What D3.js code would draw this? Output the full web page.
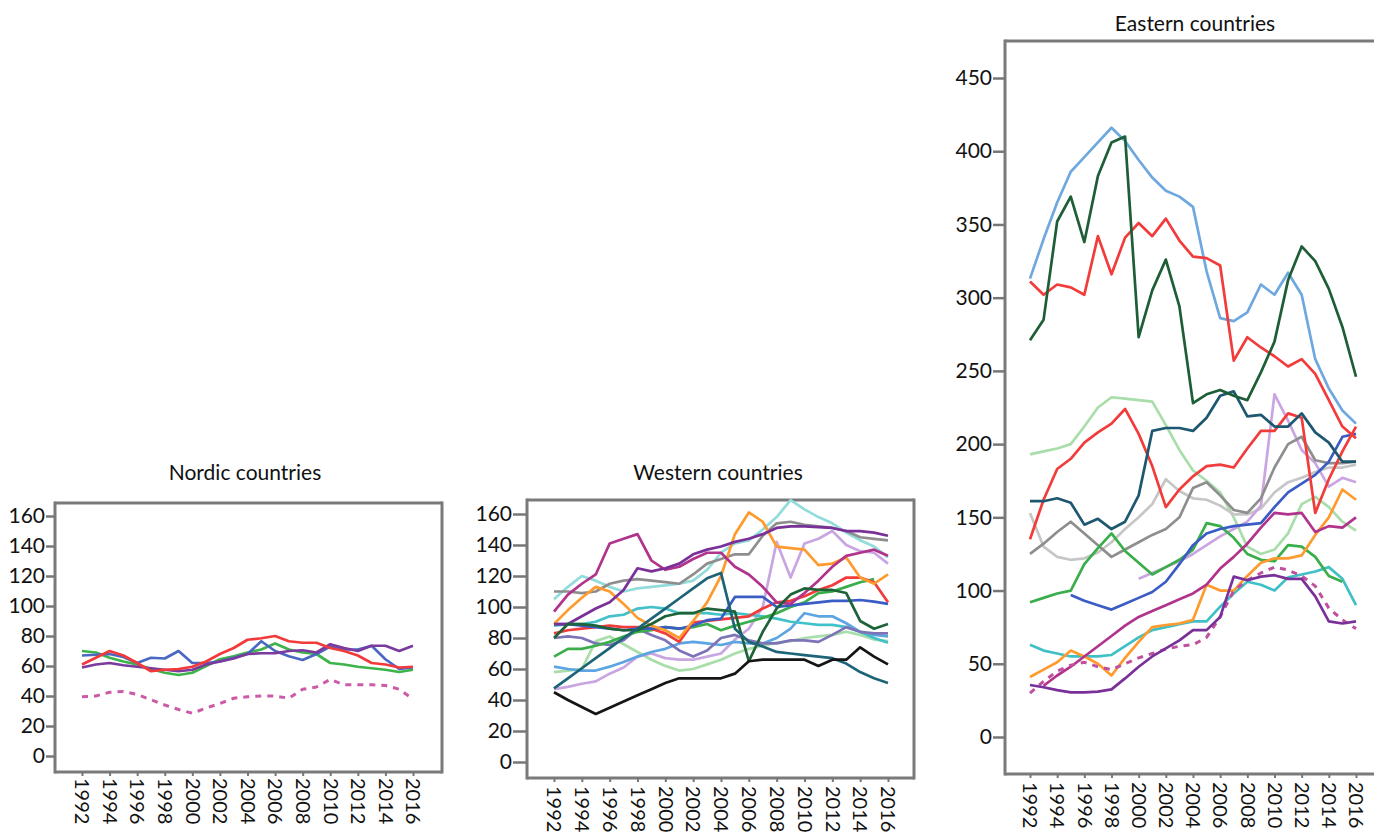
<!DOCTYPE html>
<html>
<head>
<meta charset="utf-8">
<script src="https://cdn.jsdelivr.net/npm/d3@7/dist/d3.min.js"></script>
<style>
  html, body { margin: 0; padding: 0; background: #ffffff; overflow: hidden; }
  svg { display: block; font-family: Lato, "Open Sans", sans-serif; }
</style>
</head>
<body>
<svg id="chart" width="1374" height="832"></svg>
<script>
// ---- shared categories -------------------------------------------------
const years = [1992, 1993, 1994, 1995, 1996, 1997, 1998, 1999, 2000, 2001, 2002, 2003,
               2004, 2005, 2006, 2007, 2008, 2009, 2010, 2011, 2012, 2013, 2014, 2015, 2016];
const yearTicks = [1992, 1994, 1996, 1998, 2000, 2002, 2004, 2006, 2008, 2010, 2012, 2014, 2016];
const smallTicks = [0, 20, 40, 60, 80, 100, 120, 140, 160];
const largeTicks = [0, 50, 100, 150, 200, 250, 300, 350, 400, 450];

// ---- Nordic countries --------------------------------------------------
const nordicBlue   = [67, 67.5, 68, 66, 62, 65.5, 65, 70, 62, 62, 63, 65.5, 68, 76.5, 70, 66.5, 64, 68, 73, 71, 71, 73.5, 64.5, 58, 59];
const nordicGreen  = [70, 69, 65.5, 63, 61, 58, 55.5, 54, 55.5, 60, 64.5, 66.5, 69, 71, 75, 71, 69, 68, 62, 61, 59.5, 58.5, 57.5, 56, 57.5];
const nordicRed    = [61, 65.5, 70, 67, 62, 56.5, 57.5, 58, 59.5, 63, 68, 72, 77.5, 78.5, 80, 76.5, 75.5, 75.5, 72, 70, 67, 62, 61, 59, 59.5];
const nordicPurple = [59, 61, 62, 60.5, 59.5, 58.5, 57.5, 56.5, 57.5, 61, 63, 65, 68, 68.5, 68.5, 70, 70.5, 69, 74.5, 72, 70, 73.5, 73.5, 70, 73.5];
const nordicDashed = [39.5, 40, 42.5, 43, 41, 37.5, 34, 31, 28.5, 32, 35, 38.5, 39.5, 40, 40, 38.5, 44.5, 46, 51, 47.5, 47.5, 47.5, 47, 44.5, 38];

// ---- Western countries -------------------------------------------------
const westLightGreen = [58, 59, 60, 78, 81, 76, 71, 66, 62, 59, 60, 63, 66, 70, 73, 75, 77, 78, 80, 81, 82, 84, 82, 79, 78];
const westLilac      = [47, 48.5, 50.5, 52, 57, 61, 68, 70, 67, 66, 66, 68, 70, 79, 86, 100, 142, 119, 141, 144, 149, 140, 136, 135, 128];
const westLightBlue  = [61.5, 60, 59, 59, 61.5, 64.5, 68, 71, 73, 76.5, 77.5, 76.5, 75.5, 77.5, 76.5, 76.5, 80, 86, 96, 94, 94, 89.5, 84, 82, 81];
const westMedCyan    = [88, 89, 89, 90.5, 94, 95, 99, 100, 99, 96, 96, 96, 95, 96, 95, 94, 92.5, 90.5, 89.5, 88.5, 88.5, 87, 84, 80, 77];
const westLightCyan  = [105, 113, 120, 117, 113, 110, 112, 113, 114, 115, 117, 124, 135, 141, 143, 150, 158, 169, 163, 158, 154, 148, 143, 139, 132];
const westSlate      = [80, 81, 80, 76.5, 75.5, 78.5, 86, 82, 78.5, 72, 68, 72, 80, 82, 78.5, 76.5, 76.5, 78.5, 78.5, 77.5, 82, 87, 84, 83, 83];
const westGray       = [110, 110, 109, 110, 115, 117, 118, 117, 116, 115, 121, 128, 131, 134, 134, 146, 154, 155, 153, 152, 151, 149, 145, 144, 143];
const westGreen      = [68, 73, 73, 75, 77.5, 81, 84, 85, 87, 86, 87, 89, 85, 88, 90.5, 93, 96, 100, 103, 109, 110, 113, 116, 118, null];
const westRed        = [83, 85, 86, 87, 88, 87, 87, 86, 83, 77.5, 90, 91, 92, 93, 94, 99, 103, 104, 107, 111, 114, 119, 119, 116, 103];
const westBlue       = [89, 89, 88, 87, 86, 85, 86, 86, 87, 86, 88, 91.5, 92.5, 106.5, 106.5, 106.5, 100, 101, 102, 103, 104, 104, 104.5, 103.5, 102];
const westOrange     = [89, 98, 106, 113, 110, 102, 93, 88, 85, 80, 91, 103, 120, 147, 161, 155, 139, 138, 137, 127, 128, 132, 119, 115, 121];
const westMagenta    = [97, 108, 115, 121, 141, 144, 147, 130, 124, 126, 131, 135, 135, 126, 121, 113, 103, 102, 109, 117, 126, 133, 135, 137, 133];
const westPurple     = [89, 89, 94, 99, 103, 111, 125, 123, 125, 128, 134, 137, 139, 142, 144, 147, 151, 152, 152, 151.5, 151, 149, 149, 148, 146];
const westDarkGreen  = [80, 89, 89, 88, 86, 85, 85, 89, 94, 96, 96, 99, 98, 97, 65, 84, 99, 108, 112, 111, 111, 109, 91, 86, 89];
const westTeal       = [47.5, 54, 60.5, 67, 73.5, 80, 86, 92.5, 99, 105.5, 112, 118.5, 122, 86, 77.5, 74.5, 71, 70, 69, 68, 67, 63.5, 58, 54, 51];
const westBlack      = [45, 40, 35.5, 31, 35, 39, 43, 47, 51, 54, 54, 54, 54, 57, 65, 66, 66, 66, 66, 62, 66, 66, 74, 68, 63];

// ---- Eastern countries -------------------------------------------------
const eastLightGreen = [193, 195, 197, 200, 212, 225, 232, 231, 230, 229, 213, 196, 182, 175, 167, 150, 130, 125, 128, 139, 159, 164, 157, 147, 141];
const eastLightGray  = [153, 130, 123, 121, 122, 126, 133, 142, 150, 159, 176, 168, 163, 162, 158, 152, 152, 156, 167, 174, 177, 181, 184, 184, 186];
const eastLilac      = [null, null, null, null, null, null, null, null, 108, 112, 116, 120, 125, 131, 137, 142, 147, 158, 234, 216, 196, 187, 171, 177, 174];
const eastLightBlue  = [313, 340, 365, 386, 396, 406, 416, 407, 394, 382, 373, 369, 362, 318, 286, 284, 290, 309, 302, 317, 302, 258, 238, 223, 214];
const eastGray       = [125, 132, 140, 147, 139, 131, 123, 128, 133, 138, 142, 150, 170, 174, 165, 155, 153, 163, 184, 200, 205, 189, 187, 187, 188];
const eastCyan       = [63, 59, 57, 55, 55, 55, 56, 62, 68, 73, 75, 77, 79, 79, 89, 98, 106, 104, 100, 109, 111, 113, 116, 108, 90];
const eastGreen      = [92, 95, 98, 100, 118, 129, 139, 127, 119, 111, 116, 121, 128, 146, 144, 136, 125, 121, 120, 131, 130, 123, 110, 106, null];
const eastBlue       = [null, null, null, 97, 93, 90, 87, 91, 95, 99, 106, 118, 131, 139, 142, 144, 145, 146, 157, 167, 173, 179, 188, 205, 207];
const eastOrange     = [41, 46, 51, 59, 55, 50, 42, 54, 65, 75, 76.5, 77.5, 80, 104, 100, 100, 110, 119, 122, 122, 124, 138, 150, 169, 162];
const eastMagenta    = [null, 35, 42, 48, 55, 62, 69, 76, 82, 86, 90, 94, 98, 104, 115, 123, 132, 143, 153, 152, 153, 140, 144, 143, 150];
const eastDashed     = [30, 38, 45, 49, 51, 48, 46, 50, 54, 57, 60, 62, 63, 68, 82, 100, 107, 112, 116, 114, 110, 103, 88, 80, 74];
const eastPurple     = [35.5, 34, 32, 30.5, 30.5, 31, 32.5, 40, 48, 55, 60.5, 66, 73, 73, 82, 109.5, 107, 109.5, 110.5, 108, 108, 96, 79, 77.5, 79];
const eastRedLower   = [135, 162, 183, 190, 201, 208, 214, 224, 207, 185, 157, 169, 178, 185, 186, 184, 197, 209, 209, 221, 218, 153, 176, 195, 212];
const eastDarkTeal   = [161, 161, 163, 160, 145, 149, 142, 147, 165, 209, 211, 211, 209, 218, 233, 236, 219, 220, 212, 212, 221, 208, 201, 188, 188];
const eastRedUpper   = [311, 302, 309, 307, 302, 342, 316, 341, 351, 342, 354, 339, 328, 327, 322, 257, 273, 266, 260, 253, 258, 248, 230, 212, 204];
const eastDarkGreen  = [271, 285, 352, 369, 338, 383, 406, 410, 273, 305, 326, 294, 228, 234, 237, 233, 230, 249, 270, 312, 335, 325, 306, 280, 246];

// ---- line styles (drawing order = list order) ---------------------------
const nordicLines = [
  { values: nordicDashed, color: "#cc5aa6", dashed: true },
  { values: nordicGreen,  color: "#3cb44a" },
  { values: nordicBlue,   color: "#4a68c2" },
  { values: nordicPurple, color: "#7a3a9e" },
  { values: nordicRed,    color: "#f23a3a" }
];
const westernLines = [
  { values: westLightGreen, color: "#a9deaa" },
  { values: westLilac,      color: "#c9a6e2" },
  { values: westLightBlue,  color: "#5da4e2" },
  { values: westMedCyan,    color: "#42c1c8" },
  { values: westLightCyan,  color: "#92dcdc" },
  { values: westSlate,      color: "#7d74b8" },
  { values: westGray,       color: "#8e8e8e" },
  { values: westGreen,      color: "#3aae4a" },
  { values: westRed,        color: "#f23b3b" },
  { values: westBlue,       color: "#3b5cc4" },
  { values: westOrange,     color: "#ff9a2e" },
  { values: westMagenta,    color: "#b0338c" },
  { values: westPurple,     color: "#7a3099" },
  { values: westDarkGreen,  color: "#1d6338" },
  { values: westTeal,       color: "#1e6478" },
  { values: westBlack,      color: "#151515" }
];
const easternLines = [
  { values: eastLightGreen, color: "#a9deaa" },
  { values: eastLightGray,  color: "#c6c6c6" },
  { values: eastLilac,      color: "#c9a6e2" },
  { values: eastLightBlue,  color: "#6ea8de" },
  { values: eastGray,       color: "#8e8e8e" },
  { values: eastCyan,       color: "#3fc0c6" },
  { values: eastGreen,      color: "#3aae4a" },
  { values: eastBlue,       color: "#3b5cc4" },
  { values: eastOrange,     color: "#ff9a2e" },
  { values: eastMagenta,    color: "#b0338c" },
  { values: eastDashed,     color: "#c0509d", dashed: true },
  { values: eastPurple,     color: "#7a3099" },
  { values: eastRedLower,   color: "#f23b3b" },
  { values: eastDarkTeal,   color: "#1e5770" },
  { values: eastRedUpper,   color: "#f23b3b" },
  { values: eastDarkGreen,  color: "#1d5e36" }
];

// ---- panel layout -------------------------------------------------------
// sides: which edges of the plot frame are drawn (the Eastern frame runs off the page)
const panels = [
  { title: "Nordic countries", titleX: 245, titleY: 480, lines: nordicLines,
    box: { x0: 55, x1: 442, y0: 503, y1: 772 }, sides: ["left", "top", "bottom", "right"],
    xRange: [82, 413], yDomain: [0, 160], yRange: [756, 516], yTicks: smallTicks,
    yTickLen: 9, labelGap: 6 },
  { title: "Western countries", titleX: 718, titleY: 480, lines: westernLines,
    box: { x0: 527, x1: 914, y0: 500, y1: 778 }, sides: ["left", "top", "bottom", "right"],
    xRange: [554, 888], yDomain: [0, 160], yRange: [762, 514], yTicks: smallTicks,
    yTickLen: 14, labelGap: 8 },
  { title: "Eastern countries", titleX: 1195, titleY: 31, lines: easternLines,
    box: { x0: 1005, x1: 1380, y0: 41, y1: 774 }, sides: ["left", "top", "bottom"],
    xRange: [1030, 1356], yDomain: [0, 450], yRange: [737, 78], yTicks: largeTicks,
    yTickLen: 12, labelGap: 8 }
];

const svg = d3.select("#chart");
svg.append("rect").attr("width", 1374).attr("height", 832).attr("fill", "#ffffff");

panels.forEach(p => {
  const g = svg.append("g");
  const x = d3.scaleLinear().domain([years[0], years[years.length - 1]]).range(p.xRange);
  const y = d3.scaleLinear().domain(p.yDomain).range(p.yRange);
  const b = p.box;

  // title
  g.append("text")
    .attr("x", p.titleX).attr("y", p.titleY)
    .attr("text-anchor", "middle")
    .attr("font-size", 21).attr("fill", "#111")
    .text(p.title);

  // plot frame, one line per side
  const edges = {
    left:   [b.x0, b.y0 - 1.5, b.x0, b.y1 + 1.5],
    right:  [b.x1, b.y0 - 1.5, b.x1, b.y1 + 1.5],
    top:    [b.x0, b.y0, b.x1, b.y0],
    bottom: [b.x0, b.y1, b.x1, b.y1]
  };
  g.append("g").selectAll("line")
    .data(p.sides.map(s => edges[s]))
    .join("line")
    .attr("x1", d => d[0]).attr("y1", d => d[1])
    .attr("x2", d => d[2]).attr("y2", d => d[3])
    .attr("stroke", "#7a7a7a").attr("stroke-width", 3);

  // y axis
  const yAxis = g.append("g")
    .attr("transform", `translate(${b.x0},0)`)
    .call(d3.axisLeft(y).tickValues(p.yTicks).tickSize(p.yTickLen).tickPadding(1));
  yAxis.select(".domain").remove();
  yAxis.selectAll(".tick line").attr("stroke", "#777").attr("stroke-width", 2.5);
  yAxis.selectAll(".tick text").attr("font-size", 21).attr("fill", "#111")
    .attr("font-family", "Lato, 'Open Sans', sans-serif");

  // x axis with vertical year labels
  const xAxis = g.append("g")
    .attr("transform", `translate(0,${b.y1})`)
    .call(d3.axisBottom(x).tickValues(yearTicks).tickSize(4).tickFormat(d3.format("d")));
  xAxis.select(".domain").remove();
  xAxis.selectAll(".tick line").attr("stroke", "#777").attr("stroke-width", 2);
  xAxis.selectAll(".tick text")
    .attr("font-size", 20).attr("fill", "#111")
    .attr("font-family", "Lato, 'Open Sans', sans-serif")
    .attr("transform", "rotate(90)")
    .attr("x", p.labelGap).attr("y", 0).attr("dy", "0.36em")
    .style("text-anchor", "start");

  // series
  const line = d3.line()
    .defined(d => d != null)
    .x((d, i) => x(years[i]))
    .y(d => y(d));

  g.append("g").selectAll("path")
    .data(p.lines)
    .join("path")
    .attr("d", s => line(s.values))
    .attr("fill", "none")
    .attr("stroke", s => s.color)
    .attr("stroke-width", s => s.dashed ? 3 : 2.7)
    .attr("stroke-dasharray", s => s.dashed ? "6,6" : null)
    .attr("stroke-linejoin", "round");
});
</script>
</body>
</html>
